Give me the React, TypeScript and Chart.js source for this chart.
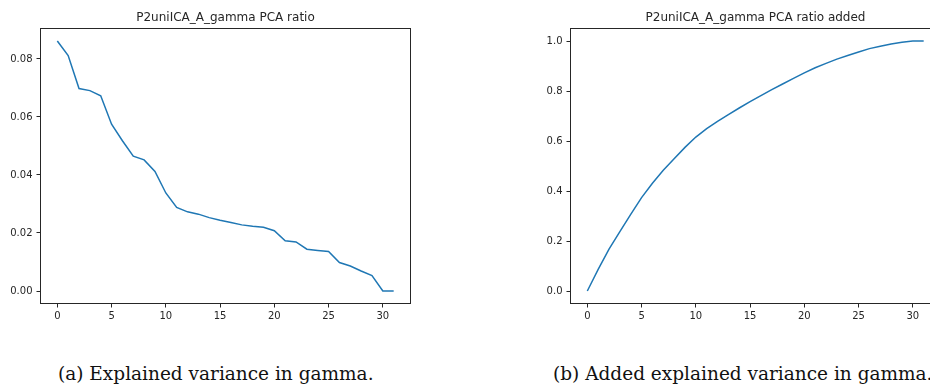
import React, { useEffect, useRef } from "react";
import { Chart, registerables } from "chart.js";

Chart.register(...registerables);

// Principal component index
const components = [
  0, 1, 2, 3, 4, 5, 6, 7, 8, 9, 10, 11, 12, 13, 14, 15,
  16, 17, 18, 19, 20, 21, 22, 23, 24, 25, 26, 27, 28, 29, 30, 31,
];

// Explained variance ratio per component
const varianceRatio = [
  0.0862, 0.0812, 0.0698, 0.0691, 0.0673, 0.0575, 0.0518, 0.0465,
  0.0452, 0.0412, 0.0338, 0.0288, 0.0273, 0.0265, 0.0253, 0.0244,
  0.0236, 0.0228, 0.0223, 0.022, 0.0208, 0.0173, 0.0169, 0.0144,
  0.014, 0.0136, 0.0098, 0.0086, 0.0069, 0.0053, 0.0, 0.0,
];

// Accumulated explained variance
const varianceAdded = [
  0.0, 0.0862, 0.1673, 0.2372, 0.3063, 0.3736, 0.4311, 0.4829,
  0.5294, 0.5745, 0.6157, 0.6495, 0.6783, 0.7055, 0.732, 0.7573,
  0.7817, 0.8053, 0.8281, 0.8504, 0.8724, 0.8932, 0.9105, 0.9274,
  0.9418, 0.9558, 0.9695, 0.9793, 0.9879, 0.9947, 1.0, 1.0,
];

const xTicks = [0, 5, 10, 15, 20, 25, 30];
const ratioTicks = [0.0, 0.02, 0.04, 0.06, 0.08];
const addedTicks = [0.0, 0.2, 0.4, 0.6, 0.8, 1.0];

const titleRatio = "P2uniICA_A_gamma PCA ratio";
const titleAdded = "P2uniICA_A_gamma PCA ratio added";
const captionRatio = "(a) Explained variance in gamma.";
const captionAdded = "(b) Added explained variance in gamma.";

const LINE = "#1f77b4";
const INK = "#262626";
const FONT = "'DejaVu Sans'";

// Draws the full axes box and the title above it
const frameTitle = {
  id: "frameTitle",
  afterDraw(chart: any, _args: any, opts: any) {
    const { ctx, chartArea: a } = chart;
    ctx.save();
    ctx.strokeStyle = INK;
    ctx.lineWidth = 1;
    ctx.strokeRect(a.left, a.top, a.right - a.left, a.bottom - a.top);
    ctx.fillStyle = INK;
    ctx.font = `12px ${FONT}`;
    ctx.textAlign = "center";
    ctx.textBaseline = "middle";
    ctx.fillText(opts.text, (a.left + a.right) / 2, a.top - 11);
    ctx.restore();
  },
};

function padRange(values: number[]) {
  const lo = Math.min(...values);
  const hi = Math.max(...values);
  const m = (hi - lo) * 0.05;
  return [lo - m, hi + m];
}

type PanelProps = {
  values: number[];
  yTicks: number[];
  digits: number;
  title: string;
  yAxisWidth: number;
  width: number;
  left: number;
};

function Panel({ values, yTicks, digits, title, yAxisWidth, width, left }: PanelProps) {
  const ref = useRef<HTMLCanvasElement>(null);

  useEffect(() => {
    if (!ref.current) return;
    const [yMin, yMax] = padRange(values);
    const [xMin, xMax] = padRange(components);
    const chart = new Chart(ref.current, {
      type: "line",
      data: {
        datasets: [
          {
            data: values.map((v, i) => ({ x: components[i], y: v })),
            borderColor: LINE,
            borderWidth: 1.5,
            pointRadius: 0,
            tension: 0,
            fill: false,
          },
        ],
      },
      options: {
        animation: false,
        responsive: false,
        events: [],
        layout: { padding: { top: 28.5, right: 19.5, left: 0, bottom: 0 } },
        plugins: {
          legend: { display: false },
          tooltip: { enabled: false },
          title: { display: false },
          frameTitle: { text: title },
        } as any,
        scales: {
          x: {
            type: "linear",
            min: xMin,
            max: xMax,
            afterBuildTicks: (s: any) => {
              s.ticks = xTicks.map((v) => ({ value: v }));
            },
            afterFit: (s: any) => {
              s.height = 26.5;
            },
            grid: {
              drawOnChartArea: false,
              drawTicks: true,
              tickLength: 4,
              color: INK,
            },
            border: { display: false },
            ticks: {
              autoSkip: false,
              maxRotation: 0,
              padding: 3,
              color: INK,
              font: { family: FONT, size: 10 },
              callback: (v: any) => String(v),
            },
          },
          y: {
            type: "linear",
            min: yMin,
            max: yMax,
            afterBuildTicks: (s: any) => {
              s.ticks = yTicks.map((v) => ({ value: v }));
            },
            afterFit: (s: any) => {
              s.width = yAxisWidth;
            },
            grid: {
              drawOnChartArea: false,
              drawTicks: true,
              tickLength: 4,
              color: INK,
            },
            border: { display: false },
            ticks: {
              padding: 4,
              color: INK,
              font: { family: FONT, size: 10 },
              callback: (v: any) => Number(v).toFixed(digits),
            },
          },
        },
      },
      plugins: [frameTitle],
    } as any);
    return () => chart.destroy();
  }, [values, yTicks, digits, title, yAxisWidth]);

  return (
    <canvas
      ref={ref}
      width={width}
      height={330}
      style={{ position: "absolute", left, top: 0, width, height: 330 }}
    />
  );
}

const captionStyle: React.CSSProperties = {
  position: "absolute",
  top: 361,
  fontFamily: "'DejaVu Serif', serif",
  fontSize: 18.5,
  lineHeight: "26px",
  color: "#111",
  whiteSpace: "nowrap",
};

export default function App() {
  return (
    <div
      style={{
        position: "absolute",
        left: 0,
        top: 0,
        width: 930,
        height: 385,
        overflow: "hidden",
        background: "#fff",
      }}
    >
      <Panel
        values={varianceRatio}
        yTicks={ratioTicks}
        digits={2}
        title={titleRatio}
        yAxisWidth={40.5}
        width={430}
        left={0}
      />
      <Panel
        values={varianceAdded}
        yTicks={addedTicks}
        digits={1}
        title={titleAdded}
        yAxisWidth={50.5}
        width={440}
        left={520}
      />
      <div style={{ ...captionStyle, left: 58 }}>{captionRatio}</div>
      <div style={{ ...captionStyle, left: 553 }}>{captionAdded}</div>
    </div>
  );
}
